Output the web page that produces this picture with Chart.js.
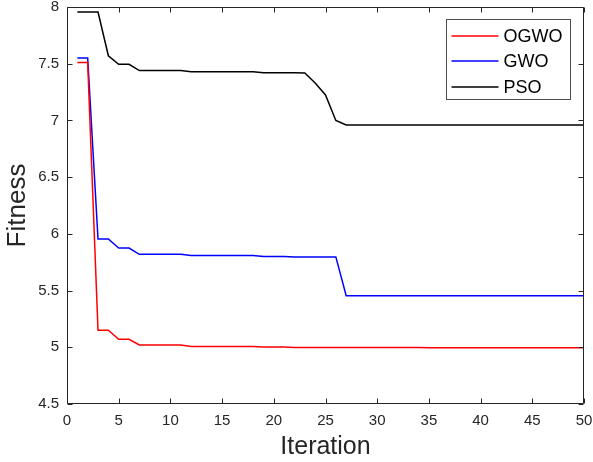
<!DOCTYPE html>
<html>
<head>
<meta charset="utf-8">
<script src="https://cdn.jsdelivr.net/npm/chart.js@4"></script>
<style>
html,body{margin:0;padding:0;background:#fff;}
canvas{display:block;}
</style>
</head>
<body>
<canvas id="c" width="593" height="462" style="width:593px;height:462px"></canvas>
<script>
const iterations = [1,2,3,4,5,6,7,8,9,10,11,12,13,14,15,16,17,18,19,20,21,22,23,24,25,26,27,28,29,30,31,32,33,34,35,36,37,38,39,40,41,42,43,44,45,46,47,48,49,50];
const ogwo = [7.51,7.51,5.15,5.15,5.07,5.07,5.02,5.02,5.02,5.02,5.02,5.008,5.008,5.008,5.008,5.008,5.008,5.008,5.002,5.002,5.002,4.998,4.998,4.998,4.998,4.998,4.998,4.998,4.998,4.998,4.998,4.998,4.998,4.998,4.997,4.997,4.997,4.997,4.997,4.997,4.997,4.997,4.997,4.997,4.997,4.997,4.997,4.997,4.997,4.997];
const gwo = [7.55,7.55,5.955,5.955,5.875,5.875,5.82,5.82,5.82,5.82,5.82,5.81,5.81,5.81,5.81,5.81,5.81,5.81,5.80,5.80,5.80,5.797,5.797,5.797,5.797,5.797,5.455,5.455,5.455,5.455,5.455,5.455,5.455,5.455,5.455,5.455,5.455,5.455,5.455,5.455,5.455,5.455,5.455,5.455,5.455,5.455,5.455,5.455,5.455,5.455];
const pso = [7.955,7.955,7.955,7.57,7.495,7.495,7.44,7.44,7.44,7.44,7.44,7.43,7.43,7.43,7.43,7.43,7.43,7.43,7.42,7.42,7.42,7.42,7.418,7.33,7.225,7.0,6.96,6.96,6.96,6.96,6.96,6.96,6.96,6.96,6.96,6.96,6.96,6.96,6.96,6.96,6.96,6.96,6.96,6.96,6.96,6.96,6.96,6.96,6.96,6.96];
const seriesNames = ['OGWO','GWO','PSO'];
const xTicks = [0,5,10,15,20,25,30,35,40,45,50];
const yTicks = [4.5,5,5.5,6,6.5,7,7.5,8];
const xTitle = 'Iteration';
const yTitle = 'Fitness';

const FONT = "'Liberation Sans', Arial, sans-serif";
const AX = '#262626';
const colors = ['#ff0000','#0000ff','#000000'];
const values = [ogwo, gwo, pso];

const datasets = values.map((arr, k) => ({
  label: seriesNames[k],
  data: iterations.map((it, i) => ({x: it, y: arr[i]})),
  borderColor: colors[k],
  backgroundColor: colors[k],
  borderWidth: 1.5,
  pointRadius: 0,
  tension: 0,
  fill: false
}));

const frame = {
  id: 'frame',
  afterDatasetsDraw(chart) {
    const {ctx, chartArea: a, scales: {x, y}} = chart;
    ctx.save();
    ctx.strokeStyle = AX;
    ctx.lineWidth = 1;
    const L = Math.round(a.left) + 0.5, R = Math.round(a.right) - 0.5;
    const T = Math.round(a.top) + 0.5, B = Math.round(a.bottom) - 0.5;
    ctx.beginPath();
    ctx.rect(L, T, R - L, B - T);
    xTicks.forEach(v => {
      const px = Math.round(x.getPixelForValue(v)) + 0.5;
      ctx.moveTo(px, B); ctx.lineTo(px, B - 5);
      ctx.moveTo(px, T); ctx.lineTo(px, T + 5);
    });
    yTicks.forEach(v => {
      const py = Math.round(y.getPixelForValue(v)) + 0.5;
      ctx.moveTo(L, py); ctx.lineTo(L + 5, py);
      ctx.moveTo(R, py); ctx.lineTo(R - 5, py);
    });
    ctx.stroke();

    // legend
    const bx = Math.round(a.right) - 137.5, by = Math.round(a.top) + 12.5;
    const bw = 124, bh = 80;
    ctx.fillStyle = '#fff';
    ctx.fillRect(bx, by, bw, bh);
    ctx.strokeStyle = '#4d4d4d';
    ctx.lineWidth = 1;
    ctx.strokeRect(bx, by, bw, bh);
    ctx.font = '18px ' + FONT;
    ctx.textBaseline = 'middle';
    ctx.textAlign = 'left';
    seriesNames.forEach((name, i) => {
      const cy = Math.round(by + 16 + i * 25.5);
      ctx.beginPath();
      ctx.strokeStyle = colors[i];
      ctx.lineWidth = 1.6;
      ctx.moveTo(bx + 5, cy); ctx.lineTo(bx + 52, cy);
      ctx.stroke();
      ctx.fillStyle = '#000';
      ctx.fillText(name, bx + 57, cy + 1);
    });
    ctx.restore();
  }
};

new Chart(document.getElementById('c'), {
  type: 'line',
  data: {datasets},
  plugins: [frame],
  options: {
    responsive: false,
    animation: false,
    devicePixelRatio: 1,
    layout: {autoPadding: false, padding: {top: 7, right: 9, left: 0, bottom: 0}},
    plugins: {legend: {display: false}, tooltip: {enabled: false}},
    scales: {
      x: {
        type: 'linear', min: 0, max: 50,
        afterBuildTicks: s => { s.ticks = xTicks.map(v => ({value: v})); },
        afterFit: s => { s.height = 58; s.paddingLeft = 0; s.paddingRight = 0; },
        grid: {display: false, drawTicks: false},
        border: {display: false},
        ticks: {color: AX, font: {family: FONT, size: 15}, padding: 8, maxRotation: 0, autoSkip: false,
                callback: v => String(v)},
        title: {display: true, text: xTitle, color: AX, font: {family: FONT, size: 25}, padding: {top: 0, bottom: 0}}
      },
      y: {
        type: 'linear', min: 4.5, max: 8,
        afterBuildTicks: s => { s.ticks = yTicks.map(v => ({value: v})); },
        afterFit: s => { s.width = 67; s.paddingTop = 0; s.paddingBottom = 0; },
        grid: {display: false, drawTicks: false},
        border: {display: false},
        ticks: {color: AX, font: {family: FONT, size: 15}, padding: 8, autoSkip: false,
                callback: v => String(Math.round(v * 10) / 10)},
        title: {display: true, text: yTitle, color: AX, font: {family: FONT, size: 26}, padding: {top: 2, bottom: 0}}
      }
    }
  }
});
</script>
</body>
</html>
